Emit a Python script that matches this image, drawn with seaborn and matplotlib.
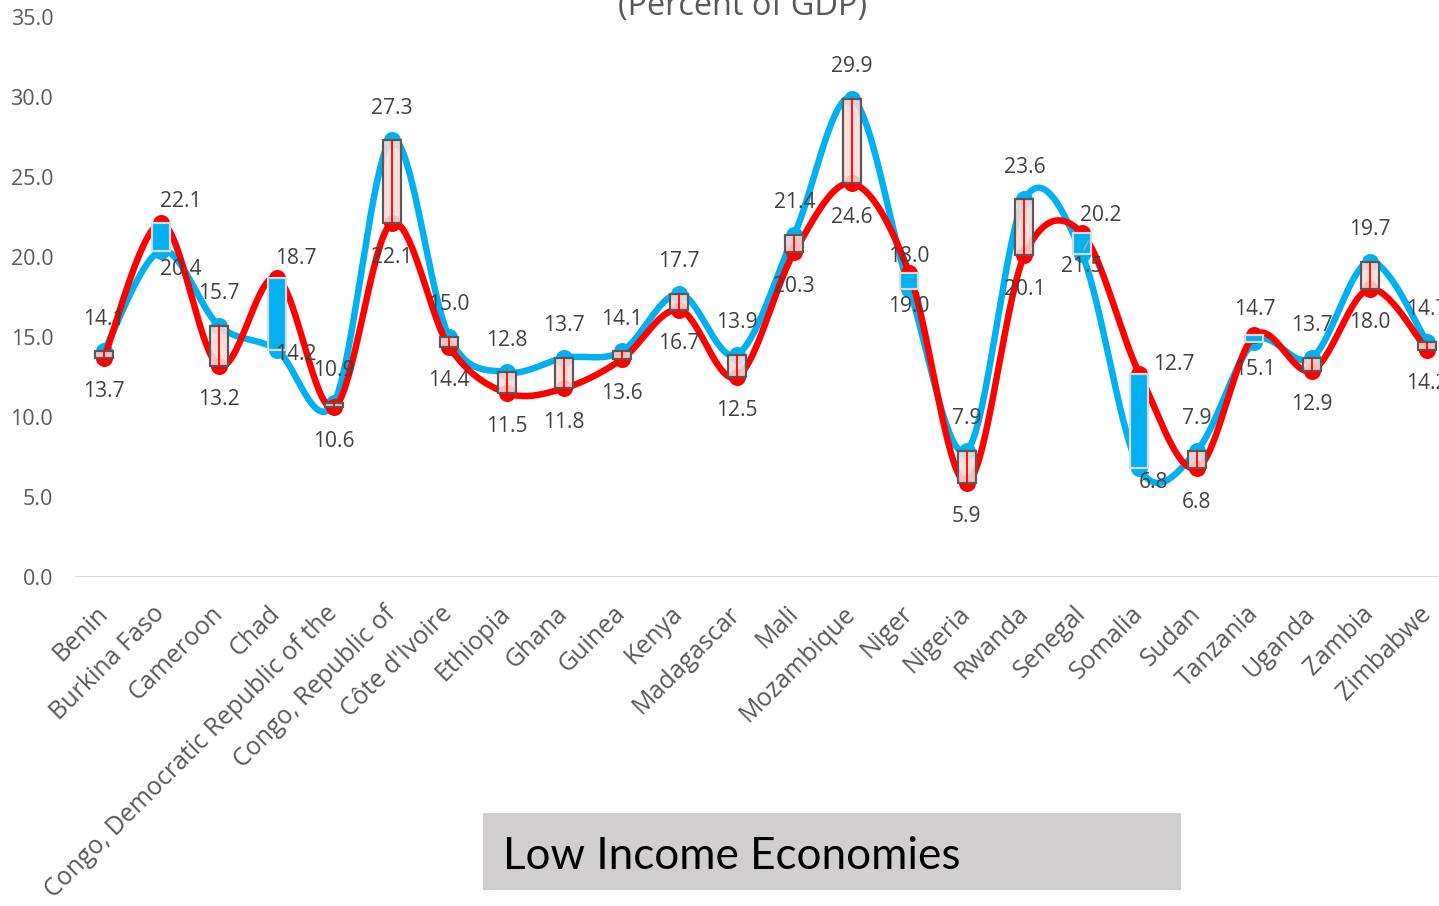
import numpy as np
import pandas as pd
import matplotlib
matplotlib.use("Agg")
import matplotlib.pyplot as plt
from matplotlib.patches import Rectangle
import seaborn as sns

# ---- data -------------------------------------------------------------
countries = [
    "Benin", "Burkina Faso", "Cameroon", "Chad",
    "Congo, Democratic Republic of the", "Congo, Republic of",
    "Côte d'Ivoire", "Ethiopia", "Ghana", "Guinea", "Kenya", "Madagascar",
    "Mali", "Mozambique", "Niger", "Nigeria", "Rwanda", "Senegal",
    "Somalia", "Sudan", "Tanzania", "Uganda", "Zambia", "Zimbabwe",
]
blue_vals = [14.1, 20.4, 15.7, 14.2, 10.9, 27.3, 15.0, 12.8, 13.7, 14.1, 17.7, 13.9,
             21.4, 29.9, 18.0, 7.9, 23.6, 20.2, 6.8, 7.9, 14.7, 13.7, 19.7, 14.7]
red_vals = [13.7, 22.1, 13.2, 18.7, 10.6, 22.1, 14.4, 11.5, 11.8, 13.6, 16.7, 12.5,
            20.3, 24.6, 19.0, 5.9, 20.1, 21.5, 12.7, 6.8, 15.1, 12.9, 18.0, 14.2]
y_ticks = [0, 5, 10, 15, 20, 25, 30, 35]
subtitle = "(Percent of GDP)"
group_name = "Low Income Economies"

# ---- styling ----------------------------------------------------------
W, H, DPI = 1439, 906, 100
BLUE = "#00b0f0"
RED = "#ff0000"
GREY_TXT = "#595959"
LABEL_TXT = "#404040"

sns.set_theme(style="white")
plt.rcParams["font.family"] = ["Open Sans", "DejaVu Sans"]

def px(v):
    return v * 72.0 / DPI

def smooth_curve(values, steps=40):
    """Cubic Bezier smoothing through every point (Catmull-Rom style)."""
    n = len(values)
    pts = np.column_stack([np.arange(n, dtype=float), np.asarray(values, float)])
    xs, ys = [], []
    t = np.linspace(0, 1, steps)[:, None]
    for i in range(n - 1):
        p0 = pts[i - 1] if i > 0 else pts[i]
        p1, p2 = pts[i], pts[i + 1]
        p3 = pts[i + 2] if i + 2 < n else pts[i + 1]
        c1 = p1 + (p2 - p0) / 6.0
        c2 = p2 - (p3 - p1) / 6.0
        seg = ((1 - t) ** 3) * p1 + 3 * ((1 - t) ** 2) * t * c1 \
            + 3 * (1 - t) * t ** 2 * c2 + t ** 3 * p2
        if i > 0:
            seg = seg[1:]
        xs.append(seg[:, 0]); ys.append(seg[:, 1])
    return np.concatenate(xs), np.concatenate(ys)

fig = plt.figure(figsize=(W / DPI, H / DPI), dpi=DPI)
fig.patch.set_facecolor("white")

x0, x1 = 75.2, 1455.8
ytop, ybot = 17.0, 577.0
ax = fig.add_axes([x0 / W, (H - ybot) / H, (x1 - x0) / W, (ybot - ytop) / H])
ax.set_facecolor("none")

idx = np.arange(len(countries))
df = pd.DataFrame({"pos": idx, "country": countries, "blue": blue_vals, "red": red_vals})

# smoothed series lines with markers
bx, by = smooth_curve(df["blue"])
rx, ry = smooth_curve(df["red"])
sns.lineplot(x=bx, y=by, ax=ax, color=BLUE, lw=px(6.5), sort=False, zorder=2)
ax.plot(df["pos"], df["blue"], "o", color=BLUE, ms=px(17), mec="none", zorder=2.1)
sns.lineplot(x=rx, y=ry, ax=ax, color=RED, lw=px(6.5), sort=False, zorder=3)
ax.plot(df["pos"], df["red"], "o", color=RED, ms=px(17), mec="none", zorder=3.1)

# up / down bars between the two series
bar_w = 18.0 / 57.52
for _, r in df.iterrows():
    lo, hi = min(r.blue, r.red), max(r.blue, r.red)
    if r.blue >= r.red:
        ax.add_patch(Rectangle((r.pos - bar_w / 2, lo), bar_w, hi - lo,
                               facecolor=(0.99, 0.86, 0.84, 0.88),
                               edgecolor="#595959", lw=px(2.2), zorder=4))
        ax.plot([r.pos, r.pos], [lo, hi], color=RED, lw=px(1.8), zorder=4.2)
    else:
        ax.add_patch(Rectangle((r.pos - bar_w / 2, lo), bar_w, hi - lo,
                               facecolor=BLUE, edgecolor="#d9d9d9",
                               lw=px(2.2), zorder=4))

# data labels (offsets in pixels)
blue_off = {i: (0, 32) for i in idx}
red_off = {i: (0, -34) for i in idx}
blue_off[1], red_off[1] = (19, -19), (19, 22)
blue_off[3], red_off[3] = (19, -5), (19, 19)
blue_off[18], red_off[18] = (14, -14), (34, 9)
lab_kw = dict(textcoords="offset pixels", ha="center", va="center",
              fontsize=px(21), color=LABEL_TXT, zorder=6)
for i in idx:
    if i == 17:
        ax.annotate(f"{blue_vals[i]:.1f}", xy=(i, blue_vals[i]), xytext=(19, 38),
                    arrowprops=dict(arrowstyle="-", color="#a6a6a6", lw=1.2,
                                    shrinkA=9, shrinkB=3), **lab_kw)
    else:
        ax.annotate(f"{blue_vals[i]:.1f}", xy=(i, blue_vals[i]), xytext=blue_off[i], **lab_kw)
    ax.annotate(f"{red_vals[i]:.1f}", xy=(i, red_vals[i]), xytext=red_off[i], **lab_kw)

# axes
ax.set_xlim(-0.5, len(countries) - 0.5)
ax.set_ylim(0, 35)
ax.set_yticks(y_ticks)
ax.set_yticklabels([f"{v:.1f}" for v in y_ticks])
ax.set_xticks(idx)
ax.set_xticklabels(countries)
for s in ax.spines.values():
    s.set_visible(False)
ax.axhline(0, color="#d9d9d9", lw=px(2), zorder=1)
ax.grid(False)
ax.tick_params(axis="y", length=0, pad=px(22), labelsize=px(21.5), labelcolor=GREY_TXT)
ax.tick_params(axis="x", length=0, pad=px(33), labelsize=px(25), labelcolor=GREY_TXT)
for lab in ax.get_xticklabels():
    lab.set_rotation(45)
    lab.set_ha("right")
    lab.set_va("center")
    lab.set_rotation_mode("anchor")

# partially visible subtitle at the top edge
fig.text(742 / W, 1 - 15 / H, subtitle, ha="center", va="baseline",
         fontsize=px(32.5), color=GREY_TXT)

# group name box
fig.patches.append(Rectangle((483 / W, (H - 890) / H), 698 / W, 77 / H,
                             transform=fig.transFigure, facecolor="#d0cece",
                             edgecolor="none", zorder=0))
fig.text(503 / W, (H - 869) / H, group_name, ha="left", va="baseline",
         fontsize=px(44), color="black", family=["Lato", "DejaVu Sans"])

fig.savefig("out.png", dpi=DPI, facecolor="white")
